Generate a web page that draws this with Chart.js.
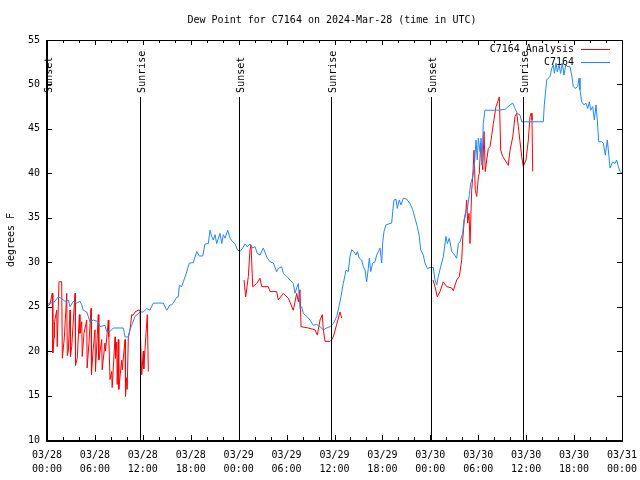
<!DOCTYPE html>
<html>
<head>
<meta charset="utf-8">
<script src="https://cdn.jsdelivr.net/npm/chart.js@4.4.1/dist/chart.umd.min.js"></script>
<style>
  body { margin: 0; background: #fff; }
  #wrap { width: 640px; height: 480px; }
</style>
</head>
<body>
<div id="wrap"><canvas id="chart" width="640" height="480"></canvas></div>
<script>
// hours since 03/28 00:00 UTC, dew point in degrees F
const obsHours = [
  0.00, 0.38, 0.79, 1.41, 1.84, 2.25, 2.67, 2.88, 3.29, 3.72,
  4.13, 4.35, 4.55, 4.97, 5.17, 5.38, 5.80, 6.42, 6.64, 7.26,
  7.48, 7.89, 8.30, 9.55, 9.77, 10.18, 10.39, 10.61, 11.02, 11.65,
  12.06, 12.48, 12.90, 13.31, 13.94, 14.56, 14.99, 15.40, 15.61, 15.90,
  16.24, 16.44, 16.57, 16.87, 17.07, 17.49, 17.82, 18.32, 18.75, 19.07,
  19.50, 19.78, 20.20, 20.41, 20.62, 20.82, 21.04, 21.25, 21.66, 21.88,
  22.08, 22.29, 22.63, 22.92, 23.25, 23.54, 23.83, 24.17, 24.51, 24.79,
  25.08, 25.42, 25.76, 26.05, 26.33, 26.67, 27.09, 27.51, 27.92, 28.34,
  28.76, 28.96, 29.39, 29.59, 30.02, 30.43, 30.84, 31.05, 31.27, 31.47,
  31.68, 31.89, 32.09, 32.52, 32.93, 33.35, 33.77, 34.18, 34.60, 35.02,
  35.44, 35.85, 36.28, 36.69, 37.10, 37.44, 37.73, 37.94, 38.15, 38.44,
  38.69, 38.86, 39.11, 39.41, 39.61, 39.82, 40.03, 40.23, 40.36, 40.53,
  40.78, 41.07, 41.28, 41.49, 41.70, 41.91, 42.04, 42.20, 42.45, 42.74,
  43.16, 43.29, 43.45, 43.70, 43.86, 44.11, 44.33, 44.62, 45.04, 45.45,
  45.79, 46.08, 46.37, 46.62, 46.79, 47.12, 47.33, 47.62, 47.96, 48.37,
  48.58, 48.80, 49.00, 49.30, 49.62, 49.96, 50.13, 50.38, 50.68, 50.88,
  51.30, 51.51, 51.72, 52.05, 52.22, 52.43, 52.63, 52.88, 53.06, 53.31,
  53.51, 53.72, 53.88, 54.01, 54.22, 54.35, 54.47, 54.63, 54.84, 56.31,
  57.35, 57.98, 58.32, 58.60, 58.89, 59.23, 59.44, 59.85, 62.15, 62.27,
  62.57, 62.99, 63.20, 63.40, 63.53, 63.74, 63.90, 64.11, 64.32, 64.52,
  64.74, 64.95, 65.20, 65.49, 65.70, 65.90, 66.12, 66.45, 66.62, 66.74,
  66.95, 67.24, 67.49, 67.71, 67.91, 68.08, 68.33, 68.54, 68.75, 68.91,
  69.08, 69.46, 69.66, 69.91, 70.16, 70.37, 70.50, 70.84, 71.12, 71.33,
  71.54, 71.75, 72.00
];
const obsValues = [
  25.2, 25.45, 25.4, 26.1, 25.9, 25.6, 25.75, 25.0, 25.6, 25.4,
  25.6, 25.2, 24.6, 24.4, 23.9, 23.3, 23.5, 23.3, 22.75, 22.9,
  22.2, 22.2, 22.6, 22.6, 21.6, 21.6, 22.4, 22.9, 23.9, 24.4,
  24.4, 24.8, 24.6, 25.4, 25.4, 25.4, 24.6, 25.2, 25.2, 25.55,
  26.05, 26.1, 27.4, 27.25, 27.8, 28.9, 29.9, 29.95, 31.2, 30.7,
  30.7, 32.05, 32.1, 33.6, 32.9, 32.5, 33.1, 32.1, 33.25, 32.1,
  33.1, 32.7, 33.6, 32.7, 32.3, 32.1, 31.4, 31.2, 31.6, 32.05,
  31.75, 32.05, 31.6, 31.75, 31.0, 30.8, 31.6, 30.6, 30.05, 29.9,
  28.95, 29.3, 29.5, 28.75, 28.4, 28.0, 27.6, 26.5, 27.1, 27.6,
  24.8, 25.0, 24.25, 23.9, 23.5, 22.9, 23.0, 22.75, 22.4, 22.6,
  22.75, 23.1, 23.9, 25.55, 27.6, 29.1, 28.95, 30.6, 31.4, 31.2,
  30.8, 31.2, 30.45, 30.25, 29.5, 29.1, 27.8, 29.3, 30.45, 28.95,
  29.9, 30.05, 30.8, 31.2, 31.6, 29.9, 32.3, 33.45, 34.2, 34.3,
  34.4, 35.7, 37.0, 37.1, 36.05, 37.0, 36.45, 37.2, 37.1, 36.6,
  35.9, 34.95, 34.0, 32.9, 31.4, 30.8, 29.9, 29.3, 29.4, 29.4,
  28.0, 27.45, 28.4, 29.5, 30.6, 32.9, 32.1, 32.7, 31.2, 31.0,
  30.45, 32.1, 32.3, 33.25, 34.75, 35.7, 35.9, 37.6, 38.9, 39.6,
  40.75, 43.75, 41.5, 43.95, 42.45, 43.95, 40.9, 45.6, 47.1, 47.1,
  47.2, 47.7, 47.9, 47.3, 46.75, 46.55, 45.8, 45.8, 45.8, 47.7,
  50.5, 50.9, 51.8, 52.2, 51.25, 52.4, 51.4, 52.2, 51.25, 52.4,
  51.05, 52.2, 52.0, 52.0, 51.05, 49.75, 49.55, 49.75, 50.7, 49.4,
  48.05, 47.7, 47.9, 47.3, 48.05, 47.1, 47.5, 46.0, 47.7, 46.0,
  43.55, 43.55, 43.4, 42.05, 43.75, 41.9, 40.6, 41.3, 41.1, 41.5,
  40.75, 40.2, 40.0
];

// analysis series, null breaks the line between nights
const anaHours = [
  0.00, 0.38, 0.66, 0.73, 0.88, 0.94, 1.22, 1.28, 1.50, 1.84,
  1.92, 2.17, 2.47, 2.54, 2.67, 2.88, 2.94, 3.09, 3.51, 3.57,
  3.79, 4.05, 4.13, 4.35, 4.41, 4.63, 4.97, 5.03, 5.26, 5.51,
  5.57, 5.76, 6.01, 6.07, 6.42, 6.49, 6.85, 6.91, 7.26, 7.33,
  7.68, 7.74, 7.89, 8.10, 8.16, 8.52, 8.58, 8.73, 8.79, 8.93,
  8.99, 9.35, 9.42, 9.77, 9.83, 9.98, 10.04, 10.18, 10.39, 10.61,
  10.77, 11.02, 11.40, 11.65, 11.71, 11.86, 12.06, 12.12, 12.40, 12.56,
  12.69,
  13.00,
  24.67, 24.88, 25.21, 25.42, 25.55, 25.76, 26.26, 26.67, 26.89, 27.71,
  27.92, 28.76, 28.96, 29.59, 30.22, 30.84, 31.27, 31.47, 31.68, 31.81,
  32.72, 33.56, 33.85, 34.19, 34.47, 34.60, 34.81, 35.44, 35.65, 35.85,
  36.69, 36.90,
  37.00,
  48.33, 48.59, 48.87, 49.21, 49.62, 50.05, 50.68, 50.88, 51.30, 51.63,
  51.93, 52.05, 52.25, 52.43, 52.55, 52.68, 52.84, 52.97, 53.18, 53.31,
  53.47, 53.63, 53.81, 54.01, 54.13, 54.31, 54.56, 54.72, 54.88, 55.06,
  55.26, 55.47, 55.69, 55.89, 56.22, 56.44, 56.64, 56.81, 57.06, 57.48,
  57.76, 57.98, 58.32, 58.60, 58.82, 59.02, 59.23, 59.44, 59.64, 59.98,
  60.27, 60.48, 60.61, 60.73, 60.82
];
const anaValues = [
  25.0, 25.3, 26.5, 19.8, 21.5, 23.3, 24.6, 20.5, 27.8, 27.8,
  19.2, 21.5, 26.5, 19.5, 20.0, 24.6, 19.4, 20.5, 26.5, 18.4,
  19.2, 24.1, 22.0, 23.3, 19.4, 22.0, 23.5, 18.1, 21.0, 24.8,
  17.35, 20.0, 22.4, 17.7, 24.1, 19.0, 21.3, 17.9, 20.9, 20.0,
  23.5, 21.6, 16.8, 17.7, 15.9, 21.6, 19.2, 21.0, 16.25, 21.3,
  15.7, 19.0, 17.9, 21.3, 14.9, 17.0, 15.7, 21.5, 22.4, 24.1,
  24.0, 24.4, 24.6, 24.6, 21.5, 17.35, 20.0, 18.0, 22.0, 24.1,
  17.7,
  null,
  28.0, 26.1, 28.4, 31.4, 31.95, 27.25, 27.6, 28.2, 27.25, 27.25,
  26.7, 26.7, 25.75, 26.5, 25.95, 24.6, 26.5, 25.55, 26.9, 22.75,
  22.6, 22.4, 21.8, 23.5, 24.1, 22.4, 21.1, 21.1, 21.3, 21.6,
  24.4, 23.7,
  null,
  28.0, 27.25, 26.1, 26.7, 27.8, 27.25, 27.1, 26.8, 28.0, 28.4,
  30.25, 32.5, 34.75, 35.5, 37.0, 34.4, 35.5, 32.1, 38.1, 39.6,
  42.6, 38.1, 37.4, 39.6, 40.0, 43.4, 40.4, 44.7, 40.2, 41.5,
  42.8, 43.0, 44.3, 45.6, 47.5, 48.05, 48.6, 42.6, 41.9, 41.3,
  40.9, 42.6, 44.1, 46.4, 46.75, 45.25, 43.55, 41.9, 40.75, 41.5,
  43.75, 46.4, 46.75, 46.0, 40.2
];

const sunHours = [0.0, 11.65, 24.04, 35.56, 48.08, 59.6];
const sunLabels = ['Sunset', 'Sunrise', 'Sunset', 'Sunrise', 'Sunset', 'Sunrise'];
const sunLineTop = 48.6;

const seriesNames = ['C7164 Analysis', 'C7164'];
const seriesColors = ['#ff0000', '#1e88ff'];

const xMin = 0, xMax = 72, xStep = 6, xMinorStep = 2;
const yMin = 10, yMax = 55, yStep = 5;

const FONT = "'DejaVu Sans Mono', 'Liberation Mono', monospace";

function toPoints(xs, ys) {
    return xs.map((h, i) => ({ x: h, y: ys[i] }));
}

const decorations = {
    id: 'decorations',
    afterDatasetsDraw(chart) {
        const { ctx, chartArea: a, scales: { x, y } } = chart;
        ctx.save();
        ctx.strokeStyle = '#000';
        ctx.lineWidth = 1;

        // sunrise / sunset lines, snapped to whole pixels
        const lineTop = Math.round(y.getPixelForValue(sunLineTop));
        ctx.beginPath();
        sunHours.forEach(h => {
            const px = Math.round(x.getPixelForValue(h)) + 0.5;
            ctx.moveTo(px, lineTop);
            ctx.lineTo(px, a.bottom);
        });

        // tick marks inside the frame
        for (let v = yMin; v <= yMax; v += yStep) {
            const py = Math.round(y.getPixelForValue(v)) + 0.5;
            ctx.moveTo(a.left, py); ctx.lineTo(a.left + 5, py);
            ctx.moveTo(a.right, py); ctx.lineTo(a.right - 5, py);
        }
        for (let h = xMin; h <= xMax; h += xMinorStep) {
            const px = Math.round(x.getPixelForValue(h)) + 0.5;
            const len = h % xStep === 0 ? 5 : 3;
            ctx.moveTo(px, a.bottom); ctx.lineTo(px, a.bottom - len);
            ctx.moveTo(px, a.top); ctx.lineTo(px, a.top + len);
        }
        ctx.stroke();

        // frame, left and bottom a bit heavier
        ctx.strokeRect(Math.round(a.left) + 0.5, Math.round(a.top) + 0.5,
            Math.round(a.right - a.left), Math.round(a.bottom - a.top));
        ctx.fillStyle = '#000';
        ctx.fillRect(Math.round(a.left) - 1, Math.round(a.top), 2, Math.round(a.bottom - a.top) + 2);
        ctx.fillRect(Math.round(a.left) - 1, Math.round(a.bottom), Math.round(a.right - a.left) + 2, 2);

        // sunrise / sunset labels
        ctx.font = '10px ' + FONT;
        ctx.textAlign = 'left';
        ctx.textBaseline = 'middle';
        sunHours.forEach((h, i) => {
            const px = x.getPixelForValue(h) + 2;
            const py = y.getPixelForValue(sunLineTop) - 4;
            ctx.save();
            ctx.translate(px, py);
            ctx.rotate(-Math.PI / 2);
            ctx.fillText(sunLabels[i], 0, 0);
            ctx.restore();
        });

        // key, top right
        ctx.textAlign = 'right';
        seriesNames.forEach((name, i) => {
            const ly = 49 + i * 13;
            ctx.fillStyle = '#000';
            ctx.fillText(name, 574, ly);
            ctx.strokeStyle = seriesColors[i];
            ctx.beginPath();
            ctx.moveTo(581, ly + 0.5);
            ctx.lineTo(610, ly + 0.5);
            ctx.stroke();
        });

        // title
        ctx.fillStyle = '#000';
        ctx.textAlign = 'center';
        ctx.fillText('Dew Point for C7164 on 2024-Mar-28 (time in UTC)', 332, 20);
        ctx.restore();
    }
};

const ctx = document.getElementById('chart').getContext('2d');

const chart = new Chart(ctx, {
    type: 'line',
    data: {
        datasets: [{
            label: seriesNames[0],
            data: toPoints(anaHours, anaValues),
            borderColor: seriesColors[0],
            borderWidth: 1,
            pointRadius: 0,
            spanGaps: false,
            order: 2
        }, {
            label: seriesNames[1],
            data: toPoints(obsHours, obsValues),
            borderColor: seriesColors[1],
            borderWidth: 1,
            pointRadius: 0,
            order: 1
        }]
    },
    options: {
        responsive: false,
        animation: false,
        devicePixelRatio: 1,
        layout: { padding: { top: 40, right: 18, bottom: 0, left: 0 } },
        plugins: {
            legend: { display: false },
            tooltip: { enabled: false },
            title: { display: false }
        },
        scales: {
            x: {
                type: 'linear',
                min: xMin,
                max: xMax,
                grid: { display: false, drawTicks: false },
                border: { display: false },
                ticks: {
                    stepSize: xStep,
                    autoSkip: false,
                    maxRotation: 0,
                    padding: 8,
                    color: '#000',
                    font: { family: FONT, size: 10, lineHeight: 1.4 },
                    callback: v => {
                        const day = 28 + Math.floor(v / 24);
                        const hh = v % 24;
                        return ['03/' + day, String(hh).padStart(2, '0') + ':00'];
                    }
                },
                afterFit: s => {
                    s.height = 40;
                    s.paddingLeft = 0;
                    s.paddingRight = 0;
                }
            },
            y: {
                min: yMin,
                max: yMax,
                grid: { display: false, drawTicks: false },
                border: { display: false },
                ticks: {
                    stepSize: yStep,
                    padding: 7,
                    color: '#000',
                    font: { family: FONT, size: 10 }
                },
                title: {
                    display: true,
                    text: 'degrees F',
                    color: '#000',
                    padding: { top: 5, bottom: 0 },
                    font: { family: FONT, size: 10 }
                },
                afterFit: s => {
                    s.width = 47;
                    s.paddingTop = 0;
                    s.paddingBottom = 0;
                }
            }
        }
    },
    plugins: [decorations]
});
</script>
</body>
</html>
